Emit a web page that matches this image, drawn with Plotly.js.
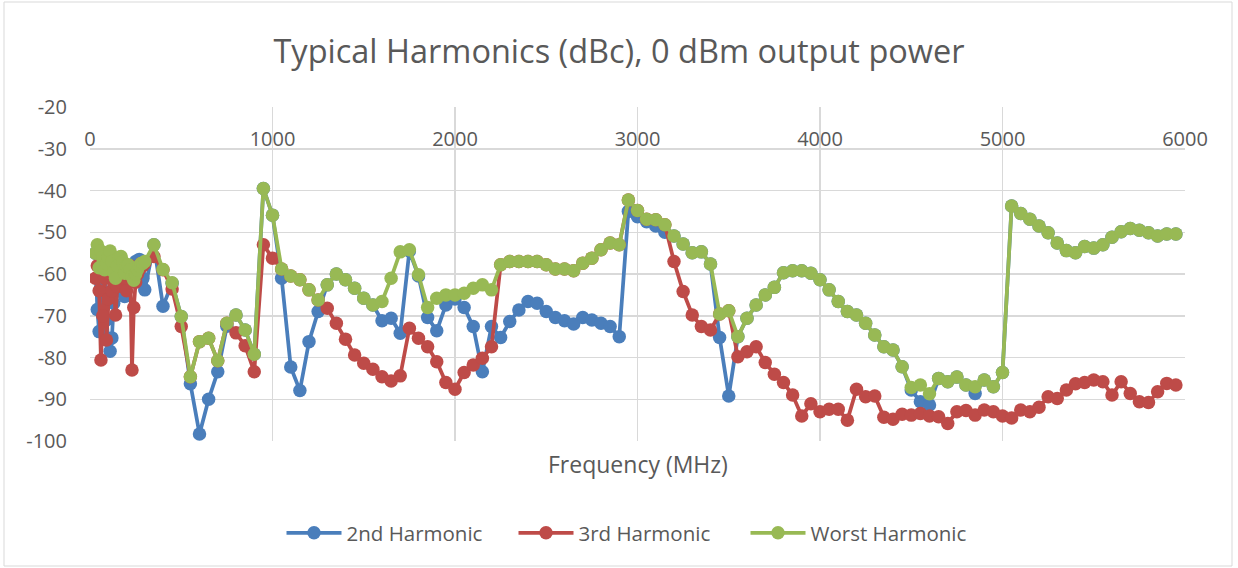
<!DOCTYPE html>
<html>
<head>
<meta charset="utf-8">
<script src="https://cdn.plot.ly/plotly-3.0.1.min.js"></script>
<style>
html,body{margin:0;padding:0;background:#fff;}
#chart{width:1238px;height:568px;}
</style>
</head>
<body>
<div id="chart"></div>
<script>
// Frequency (MHz)
var freq = [30,40,50,60,70,80,90,100,110,120,130,140,150,160,170,180,190,200,210,220,230,240,250,260,270,280,290,300,
  350,400,450,500,550,600,650,700,750,800,850,900,950,1000,
  1050,1100,1150,1200,1250,1300,1350,1400,1450,1500,1550,1600,1650,1700,1750,1800,1850,1900,1950,2000,
  2050,2100,2150,2200,2250,2300,2350,2400,2450,2500,2550,2600,2650,2700,2750,2800,2850,2900,2950,3000,
  3050,3100,3150,3200,3250,3300,3350,3400,3450,3500,3550,3600,3650,3700,3750,3800,3850,3900,3950,4000,
  4050,4100,4150,4200,4250,4300,4350,4400,4450,4500,4550,4600,4650,4700,4750,4800,4850,4900,4950,5000,
  5050,5100,5150,5200,5250,5300,5350,5400,5450,5500,5550,5600,5650,5700,5750,5800,5850,5900,5950];

var harm2 = [-55,-68.5,-73.8,-63,-60,-66,-71,-76,-78.5,-75.3,-67,-61,-58,-60,-63,-64,-65.4,-62,-59,-58,-61,-59,-57,-58,-56.5,-58,-61,-63.8,
  -53,-67.7,-62.2,-70.2,-86.3,-98.3,-90,-83.4,-72.5,-69.8,-73.4,-79.2,-39.5,-45.9,
  -61,-82.3,-87.9,-76.2,-69,-62.6,-60,-61.4,-63.4,-65.8,-67.4,-71.2,-70.6,-74.2,-54.5,-60.5,-70.4,-73.6,-67.4,-66,
  -68,-72.6,-83.4,-72.6,-75.2,-71.4,-68.6,-66.6,-67,-69,-70.4,-71.2,-72,-70.4,-71,-71.8,-72.6,-75,-45,-46.3,
  -47.5,-48.5,-50,-50.9,-52.8,-54.9,-54.7,-57.6,-75.2,-89.2,-75,-70.6,-67.4,-65,-63.2,-59.7,-59.2,-59.2,-59.8,-61.4,
  -63.8,-66.6,-69,-69.8,-71.8,-74.6,-77.4,-78.2,-82.2,-87.8,-90.6,-91.4,-85,-85.8,-84.7,-86.6,-88.6,-85.4,-87,-83.6,
  -43.7,-45.5,-46.9,-48.5,-50.1,-52.6,-54.4,-54.9,-53.4,-53.8,-53,-51.2,-49.9,-49.1,-49.5,-50.1,-50.9,-50.4,-50.4];

var harm3 = [-61,-58,-64,-80.6,-70,-61,-75.8,-66,-60,-64,-62,-69.8,-63,-60,-62,-59,-61,-64,-60,-58,-83,-68,-62,-60,-59,-57.5,-58,-57.5,
  -55.8,-59,-63.6,-72.6,-84.6,-76.2,-75.4,-80.8,-71.8,-74.1,-77.2,-83.4,-53,-56.2,
  -58.8,-60.5,-61.4,-63.8,-66.2,-68.2,-71.8,-75.6,-79.4,-81.4,-82.8,-84.6,-85.6,-84.4,-73,-75.4,-77.4,-81,-86,-87.6,
  -83.6,-81.8,-80.2,-77.4,-57.8,-57,-57,-57,-57,-57.8,-58.8,-58.8,-59.2,-57.4,-56.2,-54.2,-52.6,-53,-42.3,-44.8,
  -46.9,-47,-48.2,-57,-64.2,-69.8,-72.6,-73.4,-69.6,-68.8,-79.8,-78.6,-77.4,-81.2,-84,-86,-89,-94,-91.1,-93,
  -92.4,-92.4,-95,-87.6,-89.4,-89.2,-94.3,-94.8,-93.6,-93.8,-93.4,-94,-94.2,-95.8,-93,-92.7,-93.8,-92.6,-93,-94,
  -94.5,-92.6,-93,-91.9,-89.4,-89.8,-87.8,-86.3,-86,-85.4,-85.8,-89,-85.8,-88.6,-90.6,-90.8,-88.2,-86.2,-86.6];

var worst = [-55,-53,-58.5,-54.5,-56,-59,-57.5,-56,-54.5,-57,-59.5,-61,-58,-56,-55.8,-57,-59.8,-58,-57.8,-59,-60.6,-61.5,-60,-59,-58,-57.5,-57.4,-57,
  -53,-58.9,-62.1,-70.2,-84.6,-76.2,-75.4,-80.8,-71.8,-69.8,-73.4,-79.2,-39.5,-45.9,
  -58.8,-60.5,-61.4,-63.8,-66.2,-62.6,-60,-61.4,-63.4,-65.8,-67.4,-66.6,-61,-54.7,-54.2,-60.2,-68,-65.8,-65,-65,
  -64.6,-63.4,-62.6,-63.8,-57.8,-57,-57,-57,-57,-57.8,-58.8,-58.8,-59.2,-57.4,-56.2,-54.2,-52.6,-53,-42.3,-44.8,
  -46.9,-47,-48.2,-50.9,-52.8,-54.9,-54.7,-57.6,-69.6,-68.8,-75,-70.6,-67.4,-65,-63.2,-59.7,-59.2,-59.2,-59.8,-61.4,
  -63.8,-66.6,-69,-69.8,-71.8,-74.6,-77.4,-78.2,-82.2,-87.2,-86.6,-88.7,-85,-85.8,-84.7,-86.6,-87,-85.4,-87,-83.6,
  -43.7,-45.5,-46.9,-48.5,-50.1,-52.6,-54.4,-54.9,-53.4,-53.8,-53,-51.2,-49.9,-49.1,-49.5,-50.1,-50.9,-50.4,-50.4];

var seriesNames = ['2nd Harmonic', '3rd Harmonic', 'Worst Harmonic'];
var seriesColors = ['#4a7ebb', '#be4b48', '#98b954'];
var xTicks = [0,1000,2000,3000,4000,5000,6000];
var yTicks = [-100,-90,-80,-70,-60,-50,-40,-30,-20];

var ys = [harm2, harm3, worst];
var traces = ys.map(function(y, i){
  return {
    type:'scatter', mode:'lines+markers', x:freq, y:y, name:seriesNames[i],
    line:{color:seriesColors[i], width:3.75},
    marker:{color:seriesColors[i], size:13.5, line:{width:0}}
  };
});

var layout = {
  width:1238, height:568,
  margin:{l:90, r:53, t:107, b:127, pad:0},
  paper_bgcolor:'#ffffff', plot_bgcolor:'#ffffff',
  font:{family:'Open Sans, sans-serif', color:'#595959', size:20},
  title:{text:'Typical Harmonics (dBc), 0 dBm output power', font:{size:32.5, color:'#595959'},
         x:0.5, xref:'container', xanchor:'center', y:1-52/568, yref:'container', yanchor:'middle'},
  xaxis:{range:[0,6000], tickvals:xTicks, ticktext:xTicks.map(String), anchor:'free', position:1, side:'bottom',
         showgrid:true, gridcolor:'#d9d9d9', gridwidth:1.5, zeroline:false, showline:false, ticks:'',
         ticklabelstandoff:18, tickfont:{size:20, color:'#595959'}},
  yaxis:{range:[-100,-20], tickvals:yTicks, ticktext:yTicks.map(String), showgrid:true, gridcolor:'#d9d9d9', gridwidth:1.5,
         zeroline:false, showline:false, ticks:'', ticklabelstandoff:22, tickfont:{size:20, color:'#595959'}},
  showlegend:true,
  legend:{orientation:'h', x:0.4927, xanchor:'center', y:(441-533)/334, yanchor:'middle',
          font:{size:20.5, color:'#595959'}, itemwidth:55, entrywidth:162, entrywidthmode:'pixels',
          bgcolor:'rgba(0,0,0,0)', traceorder:'normal'},
  annotations:[{text:'Frequency (MHz)', xref:'paper', yref:'paper', x:0.5, y:(441-464)/334,
                xanchor:'center', yanchor:'middle', showarrow:false, font:{size:23, color:'#595959'}}],
  shapes:[{type:'rect', xref:'paper', yref:'paper', x0:(4-90)/1095, x1:(1232-90)/1095, y0:(441-566)/334, y1:(441-2)/334,
           line:{color:'#d9d9d9', width:1}, fillcolor:'rgba(0,0,0,0)', layer:'below'}]
};

Plotly.newPlot('chart', traces, layout, {displayModeBar:false, staticPlot:true});
</script>
</body>
</html>
